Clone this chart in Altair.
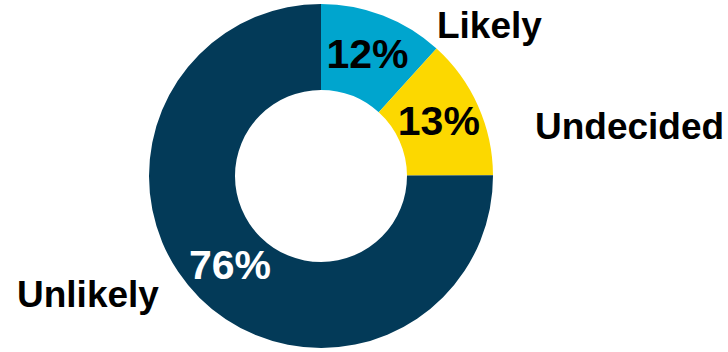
import altair as alt
import pandas as pd

categories = ["Likely", "Undecided", "Unlikely"]
values = [11.8, 13.3, 75.6]
colors = ["#00a5ce", "#fcd800", "#033a58"]

df = pd.DataFrame({"category": categories, "value": values, "order": list(range(len(categories)))})

base = alt.Chart(df).encode(
    theta=alt.Theta("value:Q", stack=True),
    order=alt.Order("order:Q"),
)

arc = base.mark_arc(outerRadius=172, innerRadius=86).encode(
    color=alt.Color("category:N", scale=alt.Scale(domain=categories, range=colors), legend=None)
)

pct = base.transform_calculate(
    label="format(datum.value, '.0f') + '%'"
).mark_text(radius=129, font="Liberation Sans", fontWeight="bold", fontSize=41, baseline="middle", align="center").encode(
    text="label:N",
    color=alt.condition(alt.datum.category == "Unlikely", alt.value("white"), alt.value("black")),
)

label_offsets = {"Likely": (100, 28), "Undecided": (135, 29), "Unlikely": (-99, -15)}
label_layers = []
for cat in categories:
    dx, dy = label_offsets[cat]
    label_layers.append(
        base.mark_text(radius=190, font="Liberation Sans", fontWeight="bold", fontSize=37,
                       baseline="middle", align="center", dx=dx, dy=dy, color="black")
        .encode(text="category:N", opacity=alt.condition(alt.datum.category == cat, alt.value(1), alt.value(0)))
    )

chart = alt.layer(arc, pct, *label_layers).properties(
    width=642, height=352,
    autosize=alt.AutoSizeParams(type="none"),
    padding={"left": 0, "top": 0, "right": 86, "bottom": 0},
).configure_view(stroke=None)

chart.save("out.html", embed_options={"renderer": "svg", "actions": False})
